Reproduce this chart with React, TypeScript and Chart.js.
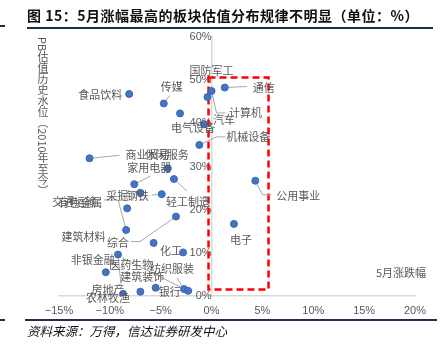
import React, { useEffect, useRef } from "react";
import { Chart, registerables } from "chart.js";

Chart.register(...registerables);

// ---------- data ----------
const industries = [
  "食品饮料", "传媒", "电气设备", "汽车", "机械设备", "商业贸易", "休闲服务",
  "家用电器", "轻工制造", "采掘", "钢铁", "有色金属", "综合", "交通运输",
  "建筑材料", "化工", "房地产", "非银金融", "银行", "建筑装饰", "农林牧渔",
  "纺织服装", "医药生物", "通信", "计算机", "国防军工", "公用事业", "电子",
];
// May change (%)
const mayChange = [
  -8.1, -4.7, -3.1, -0.75, -1.2, -12.0, -4.3,
  -7.6, -3.7, -7.0, -4.9, -8.3, -3.5, -8.4,
  -5.7, -2.8, -9.2, -10.4, -5.5, -7.0, -8.7,
  -2.7, -2.3, 1.3, 0.0, -0.4, 4.3, 2.2,
];
// PB historical percentile since 2010 (%)
const pbPercentile = [
  46.8, 44.6, 42.3, 39.8, 35.0, 31.9, 29.6,
  25.9, 27.1, 23.9, 23.6, 20.3, 18.4, 15.3,
  12.3, 10.1, 9.6, 5.5, 1.9, 1.0, 0.5,
  1.6, 1.2, 48.3, 47.5, 46.1, 26.7, 16.7,
];
const xTickMin = -15;
const xTickMax = 20;
const xTickStep = 5;
const yTickMin = 0;
const yTickMax = 60;
const yTickStep = 10;
const highlightX = [-0.3, 5.6];
const highlightY = [1.5, 50.6];

const titleText = "图 15：5月涨幅最高的板块估值分布规律不明显（单位：%）";
const yTitle = "PB估值历史水位（2010年至今）";
const xTitle = "5月涨跌幅";
const sourceText = "资料来源：万得，信达证券研发中心";

// ---------- label layout (pixel offsets from each point) ----------
const labelOffsets: [number, number][] = [
  [-29, 1], [8, -17], [13, 14], [20, -4], [49, -8], [58, -3], [-1, -13],
  [15, -16], [14, 23], [-23, 3], [-24, 2], [-47, -6], [-58, 26], [-52, -28],
  [-70, -6], [-12, -2], [-10, 35], [-13, -12], [14, 4], [2, -15], [-15, 4],
  [-12, -20], [-57, -26], [39, 0], [34, 22], [4, -26], [43, 15], [7, 16],
];
const leaderPaths: [number, number][][] = [
  [], [[6, -8]], [], [], [[17, -8], [26, -8]], [[30, -3]], [],
  [[16, -8]], [[13, 12]], [], [[-10, 1]], [], [[-36, 25], [-45, 25]], [[-8, -30], [-22, -30]],
  [], [], [[3, 30]], [], [], [], [],
  [[-7, -11]], [[-66, -33]], [[22, -1]], [[5, 22], [14, 22]], [], [[7, 14], [16, 14]], [],
];

const FONT_CJK = "'Noto Sans CJK SC', 'Noto Sans', sans-serif";
const GRAY = "#595959";

const annotPlugin = {
  id: "annot",
  beforeDatasetsDraw(chart: any) {
    const { ctx, scales } = chart;
    const x = scales.x;
    const y = scales.y;
    ctx.save();
    ctx.strokeStyle = "#ff0000";
    ctx.lineWidth = 2.5;
    ctx.setLineDash([7, 4]);
    const x0 = x.getPixelForValue(highlightX[0]);
    const x1 = x.getPixelForValue(highlightX[1]);
    const y0 = y.getPixelForValue(highlightY[1]);
    const y1 = y.getPixelForValue(highlightY[0]);
    ctx.strokeRect(x0, y0, x1 - x0, y1 - y0);
    ctx.restore();

    const meta = chart.getDatasetMeta(0);
    ctx.save();
    ctx.strokeStyle = "#a6a6a6";
    ctx.lineWidth = 1;
    meta.data.forEach((pt: any, i: number) => {
      const path = leaderPaths[i];
      if (!path || !path.length) return;
      ctx.beginPath();
      ctx.moveTo(pt.x, pt.y);
      path.forEach(([dx, dy]) => ctx.lineTo(pt.x + dx, pt.y + dy));
      ctx.stroke();
    });
    ctx.restore();
  },
  afterDatasetsDraw(chart: any) {
    const { ctx, chartArea } = chart;
    const meta = chart.getDatasetMeta(0);
    ctx.save();
    ctx.fillStyle = GRAY;
    ctx.font = `11px ${FONT_CJK}`;
    ctx.textAlign = "center";
    ctx.textBaseline = "middle";
    meta.data.forEach((pt: any, i: number) => {
      const [dx, dy] = labelOffsets[i];
      ctx.fillText(industries[i], pt.x + dx, pt.y + dy);
    });
    ctx.fillText(xTitle, chartArea.right - 14, chartArea.bottom - 23);
    ctx.restore();
  },
};

export default function App() {
  const ref = useRef<HTMLCanvasElement | null>(null);

  useEffect(() => {
    if (!ref.current) return;
    const points = mayChange.map((v, i) => ({ x: v, y: pbPercentile[i] }));
    const chart = new Chart(ref.current, {
      type: "scatter",
      data: {
        datasets: [
          {
            data: points,
            backgroundColor: "#4472C4",
            borderColor: "#3A66B5",
            borderWidth: 1,
            pointRadius: 3.5,
          },
        ],
      },
      options: {
        responsive: false,
        animation: false,
        layout: { padding: { left: 59, right: 29, top: 37, bottom: 57 } },
        plugins: { legend: { display: false }, tooltip: { enabled: false } },
        scales: {
          x: {
            type: "linear",
            min: xTickMin,
            max: xTickMax,
            position: { y: 0 } as any,
            grid: { display: false, drawTicks: false },
            border: { display: true, color: "#d9d9d9", width: 1.5 },
            ticks: {
              stepSize: xTickStep,
              padding: 8,
              color: GRAY,
              font: { size: 11, family: "'Liberation Sans', Arial, sans-serif" },
              callback: (v: any) => `${Number(v) < 0 ? "−" + Math.abs(Number(v)) : v}%`,
            },
          },
          y: {
            type: "linear",
            min: yTickMin,
            max: yTickMax,
            position: { x: 0 } as any,
            grid: { display: false, drawTicks: false },
            border: { display: true, color: "#d9d9d9", width: 1.5 },
            ticks: {
              stepSize: yTickStep,
              padding: 7,
              color: GRAY,
              font: { size: 11, family: "'Liberation Sans', Arial, sans-serif" },
              callback: (v: any) => `${v}%`,
            },
          },
        },
      },
      plugins: [annotPlugin],
    });
    return () => chart.destroy();
  }, []);

  return (
    <div style={{ position: "fixed", left: 0, top: 0, width: 444, height: 353, background: "#fff", overflow: "hidden" }}>
      <canvas ref={ref} width={444} height={353} style={{ position: "absolute", left: 0, top: 0, width: 444, height: 353 }} />
      <div style={{ position: "absolute", left: 27, top: 5, fontFamily: FONT_CJK, fontWeight: 700, fontSize: 14, letterSpacing: 0.5, color: "#111", whiteSpace: "nowrap", lineHeight: "20px" }}>
        {titleText}
      </div>
      <div style={{ position: "absolute", left: 27, top: 27, width: 406, height: 2, background: "#1F2E4F" }} />
      <div style={{ position: "absolute", left: 0, top: 25, width: 5, height: 2, background: "#1F2E4F" }} />
      <div style={{ position: "absolute", left: 37, top: 37, writingMode: "vertical-rl", fontFamily: FONT_CJK, fontSize: 11, color: GRAY, lineHeight: "12px", whiteSpace: "nowrap" }}>
        {yTitle}
      </div>
      <div style={{ position: "absolute", left: 25, top: 319, width: 412, height: 2, background: "#1F2E4F" }} />
      <div style={{ position: "absolute", left: 0, top: 319, width: 5, height: 2, background: "#1F2E4F" }} />
      <div style={{ position: "absolute", left: 27, top: 322, fontFamily: FONT_CJK, fontStyle: "italic", fontSize: 12.5, color: "#111", whiteSpace: "nowrap", lineHeight: "18px" }}>
        {sourceText}
      </div>
    </div>
  );
}
